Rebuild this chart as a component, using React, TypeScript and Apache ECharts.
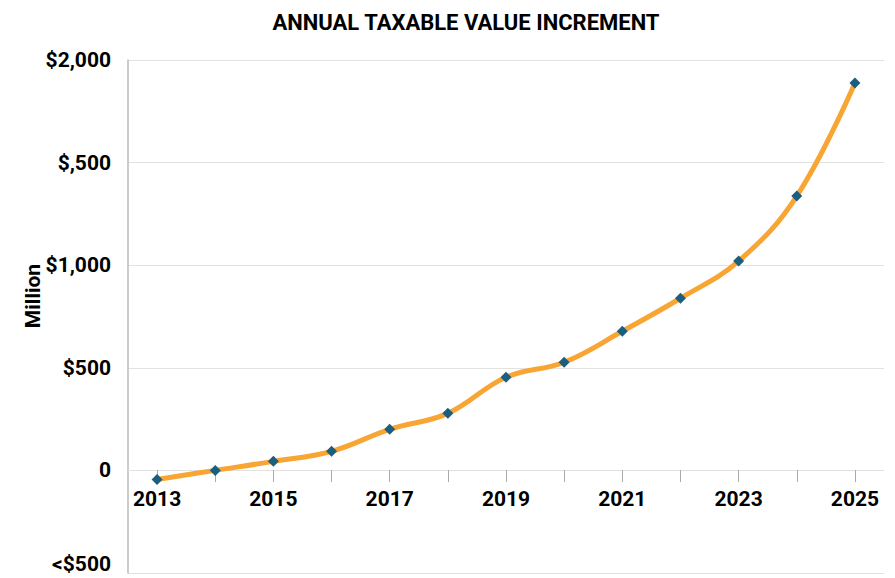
import React, { useEffect, useRef } from "react";
import * as echarts from "echarts";

const years = ["2013","2014","2015","2016","2017","2018","2019","2020","2021","2022","2023","2024","2025"];
const values = [-44, 0, 44, 93, 200, 278, 454, 527, 678, 839, 1020, 1337, 1888];
const yTickLabels: Record<string, string> = {
  "2000": "$2,000",
  "1500": "$,500",
  "1000": "$1,000",
  "500": "$500",
  "0": "0",
  "-500": "<$500",
};
const yAxisTitle = "Million";

const FONT = "Roboto, 'Open Sans', sans-serif";

export default function App() {
  const ref = useRef<HTMLDivElement>(null);
  useEffect(() => {
    const chart = echarts.init(ref.current!, null, { renderer: "svg" });
    chart.setOption({
      animation: false,
      title: {
        text: "ANNUAL TAXABLE VALUE INCREMENT",
        left: 461,
        top: 6,
        textAlign: "center",
        textStyle: { fontFamily: FONT, fontWeight: "bold", fontSize: 22, color: "#000" },
      },
      graphic: [
        {
          type: "text",
          x: 33,
          y: 296,
          rotation: Math.PI / 2,
          style: {
            text: yAxisTitle,
            fontFamily: FONT,
            fontWeight: "bold",
            fontSize: 21,
            fill: "#000",
            align: "center",
            verticalAlign: "middle",
          },
        },
      ],
      grid: { left: 128, right: 11, top: 60, bottom: 5, containLabel: false, outerBoundsMode: "none" },
      xAxis: {
        type: "category",
        data: years,
        boundaryGap: true,
        position: "bottom",
        offset: -103,
        axisLine: { onZero: false, lineStyle: { color: "#e2e2e2", width: 1 } },
        axisTick: { show: true, alignWithLabel: true, interval: 0, length: 12, lineStyle: { color: "#aaa" } },
        axisLabel: {
          interval: 1,
          margin: 18,
          fontFamily: FONT,
          fontWeight: "bold",
          fontSize: 21,
          color: "#000",
        },
      },
      yAxis: {
        type: "value",
        min: -500,
        max: 2000,
        interval: 500,
        axisLine: { show: true, onZero: false, lineStyle: { color: "#bbb", width: 1.5 } },
        axisTick: { show: false },
        splitLine: { show: true, lineStyle: { color: "#e2e2e2", width: 1 } },
        axisLabel: {
          margin: 17,
          fontFamily: FONT,
          fontWeight: "bold",
          fontSize: 21,
          color: "#000",
          formatter: (v: number) => {
            const t = yTickLabels[String(v)] ?? String(v);
            return v < 0 ? `{low|${t}}` : t;
          },
          rich: {
            low: {
              fontFamily: FONT,
              fontWeight: "bold",
              fontSize: 21,
              color: "#000",
              padding: [0, 0, 18, 0],
            },
          },
        },
      },
      series: [
        {
          type: "line",
          data: values,
          smooth: 0.4,
          lineStyle: { color: "#F8A533", width: 5 },
          symbol: "diamond",
          symbolSize: 11,
          itemStyle: { color: "#1B5E80" },
          z: 3,
        },
      ],
    });
    return () => chart.dispose();
  }, []);
  return <div ref={ref} style={{ width: 895, height: 578, position: "absolute", left: 0, top: 0 }} />;
}
